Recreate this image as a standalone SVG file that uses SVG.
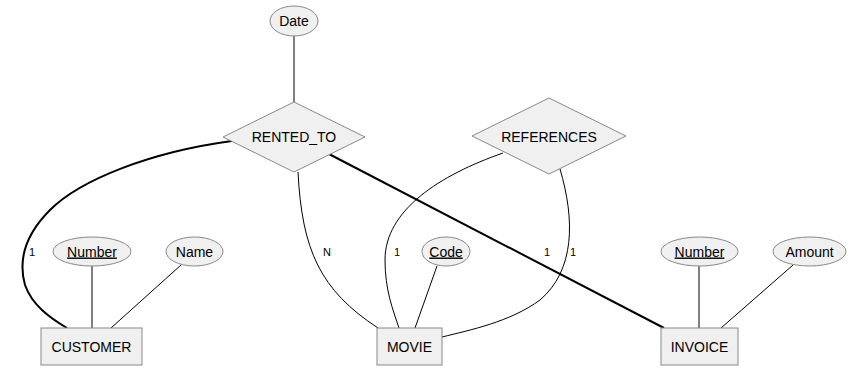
<svg xmlns="http://www.w3.org/2000/svg" width="859" height="378" viewBox="0 0 859 378">
<style>
.shape{fill:#f0f0f0;stroke:#888;stroke-width:1}
.t{font-family:"Liberation Sans",Arial,sans-serif;font-size:14px;fill:#000;text-anchor:middle}
.c{font-family:"Liberation Sans",Arial,sans-serif;font-size:11px;fill:#000;text-anchor:middle}
.e{fill:none;stroke:#000;stroke-width:1}
.thick{fill:none;stroke:#000;stroke-width:2}
.u{text-decoration:underline}
</style>
<rect width="859" height="378" fill="#fff"/>
<g id="connectors">
<path class="e" d="M294,36 L294,102"/>
<path class="thick" d="M232,141 C150,152 80,180 50,210 C25,235 18,260 25,285 C32,305 50,318 67,328"/>
<path class="thick" d="M329,154 L664,328"/>
<path class="e" d="M298,172 C302,250 320,290 378,328"/>
<path class="e" d="M503,153 C440,175 385,210 385,260 C385,290 393,310 399,328"/>
<path class="e" d="M560,169 C575,220 575,270 540,300 C510,322 470,330 442,337"/>
<path class="e" d="M92,266 L92,328"/>
<path class="e" d="M181,265 L111,328"/>
<path class="e" d="M437,266 L415,328"/>
<path class="e" d="M699,266 L699,328"/>
<path class="e" d="M793,265 L721,328"/>
<text class="c" x="32" y="256">1</text>
<text class="c" x="327" y="256">N</text>
<text class="c" x="397" y="256">1</text>
<text class="c" x="547" y="256">1</text>
<text class="c" x="573" y="256">1</text>
</g>
<g id="Date"><ellipse class="shape" cx="294" cy="21" rx="24" ry="15"/><text class="t" x="294" y="26">Date</text></g>
<g id="RENTED_TO"><polygon class="shape" points="294,102 365,137 294,172 223,137"/><text class="t" x="294" y="142">RENTED_TO</text></g>
<g id="REFERENCES"><polygon class="shape" points="549,98 626,136 549,174 472,136"/><text class="t" x="549" y="142">REFERENCES</text></g>
<g id="CUSTOMER"><rect class="shape" x="41" y="328" width="101" height="37"/><text class="t" x="91.5" y="352">CUSTOMER</text></g>
<g id="MOVIE"><rect class="shape" x="377" y="328" width="65" height="37"/><text class="t" x="409.5" y="352">MOVIE</text></g>
<g id="INVOICE"><rect class="shape" x="661" y="328" width="77" height="37"/><text class="t" x="699.5" y="352">INVOICE</text></g>
<g id="CustomerNumber"><ellipse class="shape" cx="92" cy="251.5" rx="39" ry="14.5"/><text class="t u" x="92" y="256.5">Number</text></g>
<g id="CustomerName"><ellipse class="shape" cx="194.5" cy="251.5" rx="28.5" ry="14.5"/><text class="t" x="194.5" y="256.5">Name</text></g>
<g id="MovieCode"><ellipse class="shape" cx="446" cy="251.5" rx="24" ry="14.5"/><text class="t u" x="446" y="256.5">Code</text></g>
<g id="InvoiceNumber"><ellipse class="shape" cx="699.5" cy="251.5" rx="38.5" ry="14.5"/><text class="t u" x="699.5" y="256.5">Number</text></g>
<g id="InvoiceAmount"><ellipse class="shape" cx="809.5" cy="251.5" rx="36.5" ry="14.5"/><text class="t" x="809.5" y="256.5">Amount</text></g>
</svg>
